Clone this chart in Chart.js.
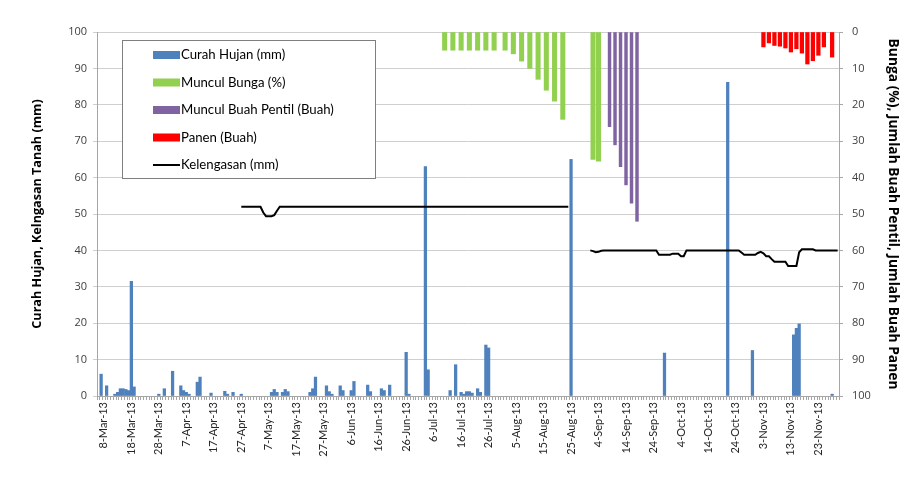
<!DOCTYPE html>
<html><head><meta charset="utf-8">
<script src="https://cdn.jsdelivr.net/npm/chart.js@4.4.1/dist/chart.umd.min.js"></script>
<style>html,body{margin:0;padding:0;background:#fff;}canvas{display:block;}</style>
</head><body>
<canvas id="c" width="909" height="489"></canvas>
<script>
// ---------- categories ----------
const MONTHS = ['Jan','Feb','Mar','Apr','May','Jun','Jul','Aug','Sep','Oct','Nov','Dec'];
const firstDay = new Date(2013, 2, 6);   // 6-Mar-13
const dayCount = 270;                    // up to 30-Nov-13
const categories = [];
for (let i = 0; i < dayCount; i++) {
  const d = new Date(firstDay.getFullYear(), firstDay.getMonth(), firstDay.getDate() + i);
  categories.push(d.getDate() + '-' + MONTHS[d.getMonth()] + '-13');
}
const firstLabeledIndex = 2;   // 8-Mar-13
const labelEvery = 10;

// ---------- series ----------
const rainDates = ['7-Mar-13','9-Mar-13','12-Mar-13','13-Mar-13','14-Mar-13','15-Mar-13','16-Mar-13','17-Mar-13','18-Mar-13','19-Mar-13',
  '28-Mar-13','30-Mar-13','2-Apr-13','5-Apr-13','6-Apr-13','7-Apr-13','8-Apr-13','11-Apr-13','12-Apr-13','16-Apr-13',
  '21-Apr-13','22-Apr-13','24-Apr-13','27-Apr-13','8-May-13','9-May-13','10-May-13','12-May-13','13-May-13','14-May-13',
  '22-May-13','23-May-13','24-May-13','28-May-13','29-May-13','30-May-13','2-Jun-13','3-Jun-13','6-Jun-13','7-Jun-13',
  '12-Jun-13','13-Jun-13','17-Jun-13','18-Jun-13','20-Jun-13','26-Jun-13','27-Jun-13','3-Jul-13','4-Jul-13','12-Jul-13',
  '14-Jul-13','16-Jul-13','17-Jul-13','18-Jul-13','19-Jul-13','20-Jul-13','22-Jul-13','23-Jul-13','25-Jul-13','26-Jul-13',
  '25-Aug-13','28-Sep-13','21-Oct-13','30-Oct-13','14-Nov-13','15-Nov-13','16-Nov-13','28-Nov-13'];
const rainValues = [6,2.8,0.5,1,2,2,1.8,1.5,31.5,2.5,
  0.5,2,6.8,2.8,1.5,1,0.5,3.8,5.2,0.8,
  1.3,0.5,1,0.5,1,1.8,1,1,1.8,1.2,
  1,2,5.2,2.8,1.2,0.5,2.8,1.5,1.5,4,
  3,1.2,2,1.5,3,12,0.5,63,7.2,1.5,
  8.6,1,0.5,1.2,1.2,0.8,2,1,14,13.2,
  65,11.8,86.2,12.5,16.8,18.6,19.8,0.5];

const flowerDates = ['10-Jul-13','13-Jul-13','16-Jul-13','19-Jul-13','22-Jul-13','25-Jul-13','28-Jul-13','1-Aug-13','4-Aug-13','7-Aug-13',
  '10-Aug-13','13-Aug-13','16-Aug-13','19-Aug-13','22-Aug-13','2-Sep-13','4-Sep-13'];
const flowerValues = [5,5,5,5,5,5,5,5,6,8,10,13,16,19,24,35,35.5];

const fruitletDates = ['8-Sep-13','10-Sep-13','12-Sep-13','14-Sep-13','16-Sep-13','18-Sep-13'];
const fruitletValues = [26,31,37,42,47,52];

const harvestDates = ['3-Nov-13','5-Nov-13','7-Nov-13','9-Nov-13','11-Nov-13','13-Nov-13','15-Nov-13','17-Nov-13','19-Nov-13','21-Nov-13','23-Nov-13','25-Nov-13','28-Nov-13'];
const harvestValues = [4.1,3,3.7,3.9,4.4,5.5,4.6,5.8,8.8,7.9,6.4,4.1,6.9];

const moistureStart = '27-Apr-13';
const moistureValues = [
  52,52,52,52,52,52,52,52,
  50.4,49.4,49.4,49.4,49.7,50.9,
  52,52,52,52,52,52,52,52,52,52,
  52,52,52,52,52,52,52,52,52,52,
  52,52,52,52,52,52,52,52,52,52,
  52,52,52,52,52,52,52,52,52,52,
  52,52,52,52,52,52,52,52,52,52,
  52,52,52,52,52,52,52,52,52,52,
  52,52,52,52,52,52,52,52,52,52,
  52,52,52,52,52,52,52,52,52,52,
  52,52,52,52,52,52,52,52,52,52,
  52,52,52,52,52,52,52,52,52,52,
  52,52,52,52,52,52,
  null,null,null,null,null,null,null,
  40,39.8,39.5,39.6,39.9,
  40,40,40,40,40,40,40,40,40,40,
  40,40,40,40,40,40,40,40,40,40,
  38.8,38.8,38.8,38.8,38.8,
  39.1,39.1,39.1,
  38.4,38.4,
  40,40,40,40,40,40,40,40,40,40,
  40,40,40,40,40,40,40,40,40,40,
  39.4,
  38.8,38.8,38.8,38.8,38.8,
  39.3,39.6,39.2,
  38.4,38.4,
  37.6,
  36.9,36.9,36.9,36.9,36.9,
  35.7,35.7,35.7,35.7,
  39.5,
  40.3,40.3,40.3,40.3,40.3,
  40,40,40,40,40,40,40,40,40
];

const yLeftTicks = [0,10,20,30,40,50,60,70,80,90,100];
const yRightTicks = [0,10,20,30,40,50,60,70,80,90,100];

// ---------- build daily arrays ----------
function toDaily(dates, values) {
  const arr = new Array(categories.length).fill(null);
  dates.forEach((d, k) => { const i = categories.indexOf(d); if (i >= 0) arr[i] = values[k]; });
  return arr;
}
const moistureDaily = new Array(categories.length).fill(null);
const mStart = categories.indexOf(moistureStart);
moistureValues.forEach((v, k) => { if (mStart + k < categories.length) moistureDaily[mStart + k] = v; });

const FONT = "'Open Sans', 'Liberation Sans', sans-serif";
const FONT2 = "Lato, 'Open Sans', sans-serif";

const legendBox = {
  id: 'legendBox',
  afterDatasetsDraw(chart) {
    const ctx = chart.ctx;
    ctx.save();
    const bx = 122.5, by = 40.5, bw = 253, bh = 138;
    ctx.fillStyle = '#ffffff';
    ctx.fillRect(bx, by, bw, bh);
    ctx.strokeStyle = '#7f7f7f';
    ctx.lineWidth = 1;
    ctx.strokeRect(bx, by, bw, bh);
    ctx.font = '13.2px ' + FONT2;
    ctx.textBaseline = 'middle';
    ctx.fillStyle = '#000';
    chart.data.datasets.forEach((ds, k) => {
      const y = 55 + k * 27.5;
      if (ds.type === 'line') {
        ctx.strokeStyle = ds.borderColor;
        ctx.lineWidth = 2;
        ctx.beginPath(); ctx.moveTo(153, y); ctx.lineTo(180, y); ctx.stroke();
      } else {
        ctx.fillStyle = ds.backgroundColor;
        ctx.fillRect(153, y - 4, 27, 8);
      }
      ctx.fillStyle = '#000';
      ctx.fillText(ds.label, 181, y);
    });
    ctx.restore();
  }
};

new Chart(document.getElementById('c'), {
  type: 'bar',
  data: {
    labels: categories,
    datasets: [
      { label: 'Curah Hujan (mm)', data: toDaily(rainDates, rainValues), yAxisID: 'y', backgroundColor: '#4f81bd', barThickness: 2.6, grouped: false, order: 2 },
      { label: 'Muncul Bunga (%)', data: toDaily(flowerDates, flowerValues), yAxisID: 'y1', backgroundColor: '#92d050', barThickness: 4.4, grouped: false, order: 2 },
      { label: 'Muncul Buah Pentil (Buah)', data: toDaily(fruitletDates, fruitletValues), yAxisID: 'y1', backgroundColor: '#8064a2', barThickness: 2.8, grouped: false, order: 2 },
      { label: 'Panen (Buah)', data: toDaily(harvestDates, harvestValues), yAxisID: 'y1', backgroundColor: '#ff0000', barThickness: 3.6, grouped: false, order: 2 },
      { type: 'line', label: 'Kelengasan (mm)', data: moistureDaily, yAxisID: 'y', borderColor: '#000000', backgroundColor: '#000000', borderWidth: 2, pointRadius: 0, tension: 0, spanGaps: false, order: 0 }
    ]
  },
  options: {
    responsive: false,
    animation: false,
    layout: { padding: { top: 32, left: 0, right: 0, bottom: 0 } },
    plugins: { legend: { display: false }, tooltip: { enabled: false } },
    scales: {
      x: {
        type: 'category',
        offset: true,
        grid: { display: true, drawOnChartArea: false, tickLength: 4, color: '#a6a6a6' },
        border: { color: '#a6a6a6' },
        ticks: {
          autoSkip: false, maxRotation: 90, minRotation: 90, padding: 2,
          font: { family: FONT2, size: 11 }, color: '#262626',
          callback: (v, i) => ((i - firstLabeledIndex) % labelEvery === 0 && i >= firstLabeledIndex) ? categories[i] : ''
        },
        afterFit: s => { s.height = 93; }
      },
      y: {
        position: 'left', min: 0, max: 100,
        afterBuildTicks: s => { s.ticks = yLeftTicks.map(v => ({ value: v })); },
        grid: { color: '#cfcfcf', tickLength: 4 },
        border: { color: '#a6a6a6' },
        ticks: { font: { family: FONT, size: 11 }, color: '#404040', padding: 6 },
        title: { display: true, text: 'Curah Hujan, Kelngasan Tanah (mm)', font: { family: FONT, size: 12.6, weight: 'bold' }, color: '#000', padding: { top: 30, bottom: 0 } },
        afterFit: s => { s.width = 97; }
      },
      y1: {
        position: 'right', min: 0, max: 100, reverse: true,
        afterBuildTicks: s => { s.ticks = yRightTicks.map(v => ({ value: v })); },
        grid: { drawOnChartArea: false, color: '#a6a6a6', tickLength: 4 },
        border: { color: '#a6a6a6' },
        ticks: { font: { family: FONT, size: 11 }, color: '#404040', padding: 9 },
        title: { display: true, text: 'Bunga (%), Jumlah Buah Pentil, Jumlah Buah Panen', font: { family: FONT, size: 13.8, weight: 'bold' }, color: '#000', padding: { top: 8, bottom: 0 } },
        afterFit: s => { s.width = 70; }
      }
    }
  },
  plugins: [legendBox]
});
</script>
</body></html>
